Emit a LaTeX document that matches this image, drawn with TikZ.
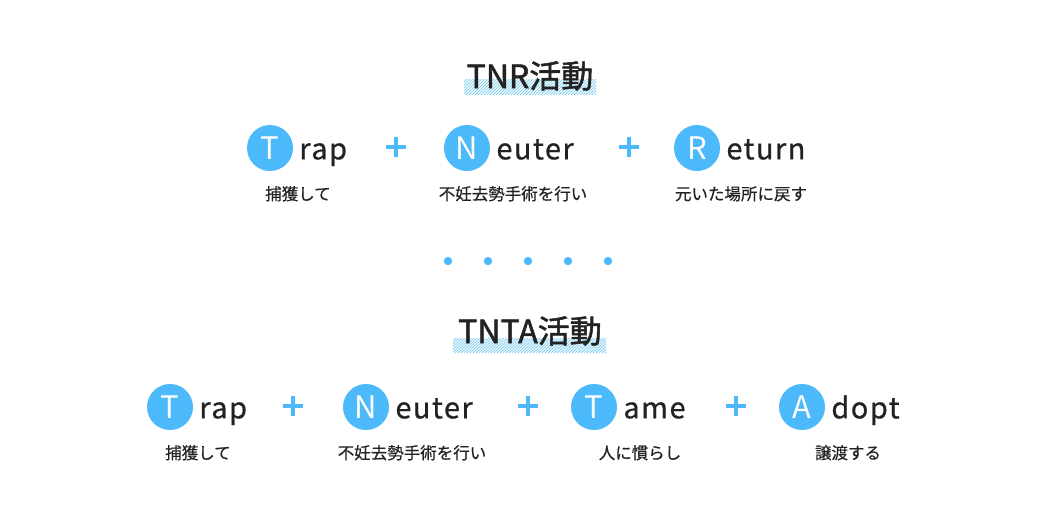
\documentclass[tikz,border=0pt]{standalone}
\usepackage{fontspec}
\setmainfont{Noto Sans CJK JP}
\newfontfamily\titlefont[FakeBold=1.6]{Noto Sans CJK JP}
\newfontfamily\wordfont[LetterSpace=5,FakeBold=0.6]{Noto Sans CJK JP}
\newfontfamily\notefont[FakeBold=0.5]{Noto Sans CJK JP}
\usetikzlibrary{positioning}
\definecolor{tnrblue}{HTML}{4CB9FB}
\definecolor{hatchblue}{HTML}{8AD2F0}
\definecolor{ink}{HTML}{222222}
\tikzset{
  title/.style={anchor=base, text=ink, font=\titlefont\fontsize{32}{32}\selectfont, inner sep=0pt},
  letter/.style={circle, fill=tnrblue, minimum size=46pt, inner sep=0pt, text=white, font=\fontsize{31}{31}\selectfont},
  word/.style={anchor=base west, text=ink, font=\wordfont\fontsize{29}{29}\selectfont, inner sep=0pt},
  note/.style={anchor=base, text=ink, font=\notefont\fontsize{16.5}{16.5}\selectfont, inner sep=0pt},
  plus/.style={draw=tnrblue, line width=3.6pt},
  hatch/.style={draw=hatchblue, line width=0.9pt},
}
\begin{document}
\begin{tikzpicture}[x=1pt,y=-1pt]
\useasboundingbox (0,0) rectangle (1056,523);
% hatched marks under the titles
\foreach \l/\r/\t/\b in {464/596/79/95, 453/606/338/353} {
  \begin{scope}
    \clip (\l,\t) rectangle (\r,\b);
    \foreach \k in {0,3,...,174}
      \draw[hatch] (\l+\k-16,\b) -- (\l+\k,\t);
  \end{scope}
}
\node[title] (tnr) at (530,88) {TNR活動};
\node[title] (tnta) at (530,343) {TNTA活動};

% first row
\node[letter] (t1) at (270,148) {T};
\node[word] (trap1) at ([xshift=6pt]t1.base east) {rap};
\node[letter] (n1) at (467,148) {N};
\node[word] (neuter1) at ([xshift=6pt]n1.base east) {euter};
\node[letter] (r1) at (697,148) {R};
\node[word] (return1) at ([xshift=6pt]r1.base east) {eturn};
\node[note] (trapnote1) at (298,200) {捕獲して};
\node[note] (neuternote1) at (513,200) {不妊去勢手術を行い};
\node[note] (returnnote1) at (741,200) {元いた場所に戻す};

% dots
\foreach \x in {448,488,...,608}
  \fill[tnrblue] (\x,261) circle (4.2);

% second row
\node[letter] (t2) at (170,407) {T};
\node[word] (trap2) at ([xshift=6pt]t2.base east) {rap};
\node[letter] (n2) at (366,407) {N};
\node[word] (neuter2) at ([xshift=6pt]n2.base east) {euter};
\node[letter] (t3) at (594,407) {T};
\node[word] (tame2) at ([xshift=6pt]t3.base east) {ame};
\node[letter] (a2) at (802,407) {A};
\node[word] (adopt2) at ([xshift=6pt]a2.base east) {dopt};
\node[note] (trapnote2) at (198,459) {捕獲して};
\node[note] (neuternote2) at (412,459) {不妊去勢手術を行い};
\node[note] (tamenote2) at (640,459) {人に慣らし};
\node[note] (adoptnote2) at (848,459) {譲渡する};

% plus signs
\foreach \x/\y in {396/147, 629/147, 293/406, 528/406, 736/406}
  \draw[plus] (\x-10,\y) -- (\x+10,\y) (\x,\y-10) -- (\x,\y+10);
\end{tikzpicture}
\end{document}
